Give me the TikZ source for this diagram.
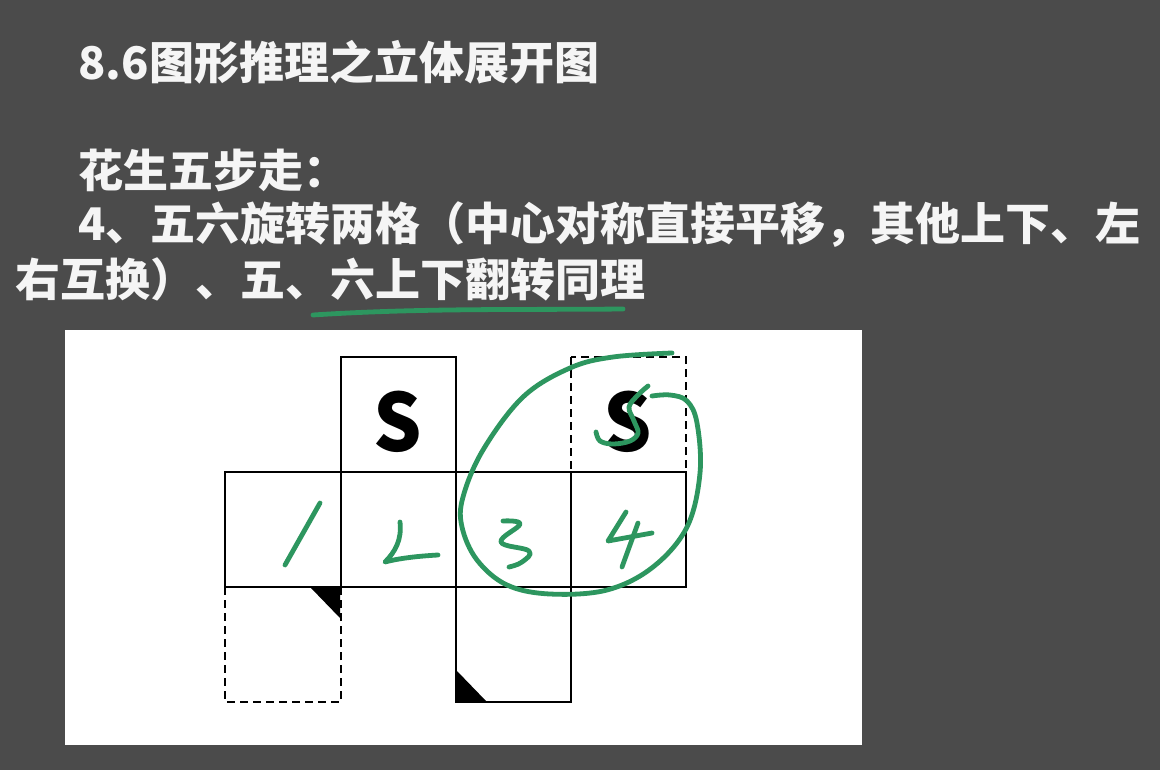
\documentclass[tikz,border=0pt]{standalone}
\usepackage{fontspec}
\newfontfamily\cjk{Noto Sans CJK SC}
\definecolor{bg}{RGB}{75,75,75}
\definecolor{pen}{RGB}{45,150,95}
\definecolor{txt}{RGB}{245,245,245}
\begin{document}
\begin{tikzpicture}[x=0.5pt,y=-0.5pt,
  line/.style={text=txt,font=\cjk\bfseries\fontsize{22.5pt}{26pt}\selectfont,anchor=west,inner sep=0pt},
  cell/.style={draw=black,line width=1pt},
  dcell/.style={draw=black,line width=1pt,dash pattern=on 4pt off 2.5pt},
  ink/.style={draw=pen,line width=2.4pt,line cap=round,line join=round},
  letter/.style={font=\cjk\bfseries\fontsize{38pt}{40pt}\selectfont,inner sep=0pt,yscale=1.05}]
\useasboundingbox (0,0) rectangle (1160,770);
\fill[bg] (0,0) rectangle (1160,770);
% texts
\node[line] (t1) at (78,62) {8.6图形推理之立体展开图};
\node[line] (t2) at (78,170) {花生五步走：};
\node[line] (t3) at (78,225) {4、五六旋转两格（中心对称直接平移，其他上下、左};
\node[line] (t4) at (15,279) {右互换）、五、六上下翻转同理};
% white panel
\fill[white] (65,330) rectangle (862,745);
% net cells
\draw[cell] (341,357) rectangle (456,472);
\draw[dcell] (571,357) rectangle (686,472);
\draw[cell] (225,472) rectangle (341,587);
\draw[cell] (341,472) rectangle (456,587);
\draw[cell] (456,472) rectangle (571,587);
\draw[cell] (571,472) rectangle (686,587);
\draw[dcell] (225,587) rectangle (341,702);
\draw[cell] (456,587) rectangle (571,702);
\draw[cell] (225,587) -- (686,587);
% black corner triangles
\fill[black] (311,588) -- (340,588) -- (340,618) -- cycle;
\fill[black] (457,701) -- (457,671) -- (486,701) -- cycle;
% S letters
\node[letter] (s1) at (398,422) {S};
\node[letter] (s2) at (628,422) {S};
% green handwriting
\draw[ink] (313,315) .. controls (420,308) and (520,310) .. (623,309);
\draw[ink] (320,503) -- (285,565);
\draw[ink] (400,522) .. controls (402,540) and (395,552) .. (385,562) .. controls (400,558) and (420,556) .. (438,555);
\draw[ink] plot[smooth,tension=0.7] coordinates {(503,521) (520,524) (501,542) (529,551) (522,562) (509,567)};
\draw[ink] (626,512) -- (608,541) -- (652,533);
\draw[ink] (638,523) -- (622,567);
\draw[ink] plot[smooth,tension=0.6] coordinates {(672,353) (613,357) (570,368) (523,397) (483,450) (463,497) (462,527) (477,560) (507,585) (550,594) (607,590) (653,567) (687,527) (700,473) (697,423) (687,401) (670,395) (652,396)};
\draw[ink] plot[smooth,tension=0.6] coordinates {(648,386) (638,395) (629,407) (634,421) (638,433) (630,441) (613,444) (600,441) (596,432)};
\end{tikzpicture}
\end{document}
